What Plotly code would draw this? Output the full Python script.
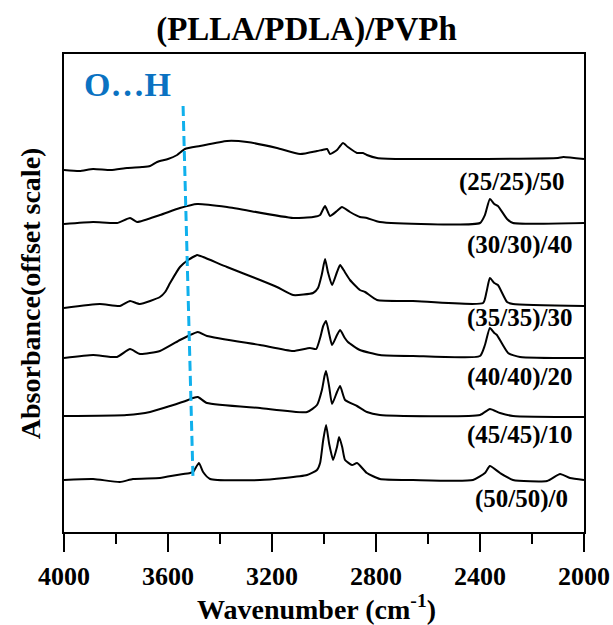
import plotly.graph_objects as go

# ---- data ----
labels = ["(25/25)/50", "(30/30)/40", "(35/35)/30", "(40/40)/20", "(45/45)/10", "(50/50)/0"]

w1 = [4000, 3940, 3888, 3820, 3758, 3700, 3669, 3642, 3600, 3565, 3535, 3477, 3373, 3296, 3181, 3092,
      3027, 3008, 2988, 2977, 2950, 2938, 2927, 2908, 2873, 2850, 2835, 2796, 2708, 2500, 2100, 2080, 2000]
a1 = [3.62, 3.61, 3.63, 3.62, 3.64, 3.65, 3.66, 3.70, 3.73, 3.77, 3.83, 3.86, 3.91, 3.90, 3.84, 3.78,
      3.81, 3.82, 3.83, 3.78, 3.82, 3.86, 3.89, 3.85, 3.79, 3.79, 3.77, 3.74, 3.73, 3.73, 3.74, 3.75, 3.73]

w2 = [4000, 3888, 3796, 3746, 3719, 3631, 3554, 3488, 3373, 3119, 3042, 3015, 3005, 2996, 2985, 2977,
      2950, 2931, 2900, 2862, 2835, 2785, 2400, 2381, 2362, 2345, 2331, 2296, 2273, 2000]
a2 = [3.08, 3.10, 3.09, 3.14, 3.10, 3.17, 3.24, 3.28, 3.25, 3.14, 3.15, 3.17, 3.22, 3.26, 3.20, 3.16,
      3.21, 3.25, 3.20, 3.15, 3.14, 3.10, 3.09, 3.17, 3.33, 3.28, 3.26, 3.13, 3.09, 3.09]

w3 = [4000, 3862, 3785, 3746, 3708, 3631, 3611, 3592, 3554, 3523, 3496, 3488, 3465, 3373, 3246, 3181,
      3119, 3042, 3023, 3008, 2996, 2985, 2969, 2950, 2938, 2920, 2900, 2862, 2842, 2796, 2658, 2388,
      2375, 2362, 2345, 2331, 2296, 2273, 2000]
a3 = [2.24, 2.28, 2.26, 2.31, 2.28, 2.35, 2.40, 2.49, 2.65, 2.72, 2.76, 2.77, 2.75, 2.65, 2.52, 2.45,
      2.37, 2.39, 2.44, 2.58, 2.73, 2.60, 2.47, 2.60, 2.67, 2.60, 2.52, 2.42, 2.40, 2.32, 2.31, 2.29,
      2.40, 2.54, 2.49, 2.47, 2.30, 2.28, 2.26]

w4 = [4000, 3888, 3796, 3746, 3708, 3631, 3554, 3523, 3485, 3450, 3246, 3119, 3054, 3030, 3015, 3003,
      2992, 2980, 2969, 2950, 2938, 2920, 2908, 2862, 2785, 2658, 2400, 2381, 2362, 2345, 2335, 2292,
      2246, 2000]
a4 = [1.74, 1.77, 1.75, 1.83, 1.78, 1.81, 1.92, 1.96, 2.00, 1.96, 1.87, 1.81, 1.84, 1.83, 1.94, 2.06,
      2.11, 1.98, 1.87, 1.97, 2.02, 1.94, 1.90, 1.82, 1.77, 1.76, 1.76, 1.87, 2.04, 1.99, 1.97, 1.79,
      1.75, 1.74]

w5 = [4000, 3758, 3669, 3592, 3523, 3504, 3485, 3450, 3246, 3065, 3027, 3008, 2998, 2992, 2980, 2969,
      2950, 2938, 2919, 2873, 2835, 2785, 2400, 2362, 2323, 2273, 2000]
a5 = [1.16, 1.17, 1.20, 1.26, 1.32, 1.34, 1.35, 1.29, 1.24, 1.20, 1.27, 1.42, 1.56, 1.61, 1.45, 1.28,
      1.40, 1.46, 1.32, 1.26, 1.20, 1.17, 1.17, 1.23, 1.19, 1.16, 1.15]

w6 = [4000, 3888, 3785, 3735, 3631, 3565, 3515, 3504, 3481, 3465, 3438, 3246, 3065, 3027, 3015, 3003,
      2992, 2980, 2965, 2950, 2942, 2930, 2919, 2892, 2873, 2835, 2785, 2658, 2427, 2381, 2362, 2323,
      2273, 2142, 2092, 2054, 2000]
a6 = [0.52, 0.53, 0.50, 0.53, 0.54, 0.57, 0.59, 0.60, 0.69, 0.60, 0.53, 0.52, 0.57, 0.62, 0.69, 0.92,
      1.07, 0.88, 0.72, 0.85, 0.95, 0.85, 0.72, 0.67, 0.69, 0.59, 0.53, 0.52, 0.52, 0.59, 0.66, 0.59,
      0.52, 0.51, 0.58, 0.54, 0.52]

label_w = [2065, 2035, 2035, 2035, 2035, 2054]
label_a = [3.50, 2.87, 2.14, 1.55, 0.97, 0.33]

oh_w = [3542, 3504]
oh_a = [4.26, 0.55]

series_w = [w1, w2, w3, w4, w5, w6]
series_a = [a1, a2, a3, a4, a5, a6]

FONT = "Liberation Serif, Times New Roman, serif"

fig = go.Figure()
for w, a in zip(series_w, series_a):
    fig.add_trace(go.Scatter(x=w, y=a, mode="lines",
                             line=dict(color="black", width=2, shape="spline", smoothing=0.5),
                             showlegend=False))

fig.add_trace(go.Scatter(x=oh_w, y=oh_a, mode="lines",
                         line=dict(color="#10B0EC", width=3, dash="10px,5px"), showlegend=False))

for lab, lw, la in zip(labels, label_w, label_a):
    fig.add_annotation(x=lw, y=la, text="<b>%s</b>" % lab, showarrow=False,
                       xanchor="right", yanchor="middle",
                       font=dict(family=FONT, size=25, color="black"))

fig.add_annotation(x=3931, y=4.48, text="<b>O…H</b>", showarrow=False,
                   xanchor="left", yanchor="middle",
                   font=dict(family=FONT, size=34, color="#0A72C2"))

fig.add_annotation(xref="paper", yref="paper", x=-0.065, y=0.5,
                   text="<b>Absorbance(offset scale)</b>", textangle=-90, showarrow=False,
                   xanchor="center", yanchor="middle",
                   font=dict(family=FONT, size=28, color="black"))

fig.add_annotation(xref="paper", yref="paper", x=0.486, y=-0.157,
                   text="<b>Wavenumber (cm<sup>-1</sup>)</b>", showarrow=False,
                   xanchor="center", yanchor="middle",
                   font=dict(family=FONT, size=28, color="black"))

fig.update_layout(
    width=613, height=625, autosize=False,
    margin=dict(l=64, r=29, t=54, b=93, autoexpand=False),
    paper_bgcolor="white", plot_bgcolor="white",
    title=dict(text="<b>(PLLA/PDLA)/PVPh</b>", x=0.5, xanchor="center",
               y=1 - 28 / 625, yanchor="middle",
               font=dict(family=FONT, size=33, color="black")),
    showlegend=False,
)

fig.update_xaxes(range=[4000, 2000], tickvals=[4000, 3600, 3200, 2800, 2400, 2000],
                 ticktext=["<b>4000</b>", "<b>3600</b>", "<b>3200</b>", "<b>2800</b>", "<b>2400</b>", "<b>2000</b>"],
                 ticks="outside", ticklen=18, tickwidth=2, tickcolor="black",
                 minor=dict(tickvals=[3800, 3400, 3000, 2600, 2200], ticks="outside",
                            ticklen=10, tickwidth=2, tickcolor="black"),
                 showline=True, linewidth=2, linecolor="black", mirror=True,
                 showgrid=False, zeroline=False, ticklabelstandoff=2, automargin=False,
                 tickfont=dict(family=FONT, size=26, color="black"))

fig.update_yaxes(range=[0, 4.78], showticklabels=False, ticks="",
                 showline=True, linewidth=2, linecolor="black", mirror=True,
                 showgrid=False, zeroline=False, automargin=False)

# remove the browser's default page margin/scrollbars so the figure fills the window exactly
post = ("document.documentElement.style.overflow='hidden';"
        "document.body.style.margin='0';document.body.style.overflow='hidden';"
        "var gd=document.getElementById('{plot_id}');"
        "Plotly.relayout(gd,{width:613,height:625});")
fig.write_html("out.html", post_script=post,
               config={"displayModeBar": False, "responsive": False})
